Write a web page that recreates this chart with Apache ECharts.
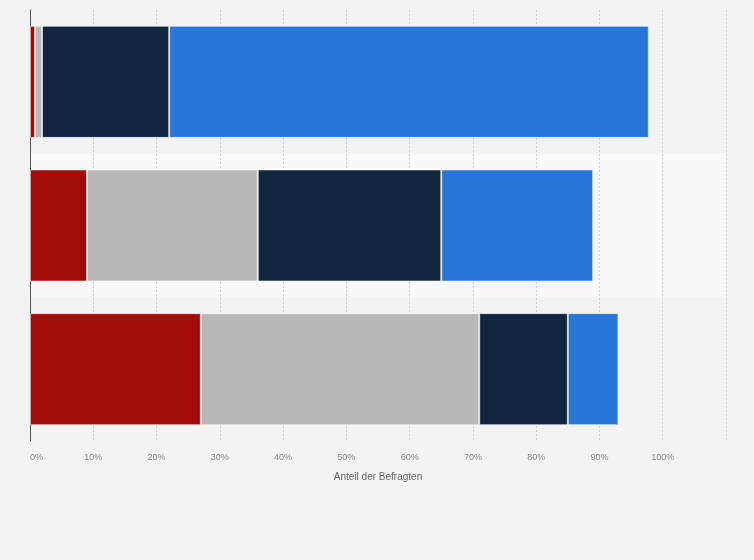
<!DOCTYPE html>
<html>
<head>
<meta charset="utf-8">
<script src="https://cdn.jsdelivr.net/npm/echarts@6/dist/echarts.min.js"></script>
<style>
  html, body { margin: 0; padding: 0; background: #f3f3f3; }
  #chart { width: 754px; height: 560px; }
</style>
</head>
<body>
<div id="chart"></div>
<script>
// Rows from top to bottom (no labels shown in the original)
var categories = ['Gruppe 1', 'Gruppe 2', 'Gruppe 3'];

// Stacked shares in percent, per row
var seriesNames = ['Segment 1', 'Segment 2', 'Segment 3', 'Segment 4'];
var seg1 = [0.8, 9, 27];
var seg2 = [1.1, 27, 44];
var seg3 = [20.1, 29, 14];
var seg4 = [75.8, 24, 8];
var colors = ['#a30a0a', '#b8b8b8', '#0f263e', '#2676da'];

var tickLabels = ['0%', '10%', '20%', '30%', '40%', '50%', '60%', '70%', '80%', '90%', '100%'];

var chart = echarts.init(document.getElementById('chart'), null, {
  renderer: 'canvas',
  width: 754,
  height: 560,
});

var values = [seg1, seg2, seg3, seg4];

var option = {
  animation: false,
  backgroundColor: '#f3f3f3',
  grid: {
    left: 30,
    right: 28,
    top: 10,
    bottom: 119,
    containLabel: false,
  },
  xAxis: {
    type: 'value',
    min: 0,
    max: 110,
    interval: 10,
    name: 'Anteil der Befragten',
    nameLocation: 'middle',
    nameGap: 31,
    nameTextStyle: {
      color: '#666',
      fontSize: 10,
      fontFamily: 'Liberation Sans, Arial, sans-serif',
    },
    axisLine: { show: false },
    axisTick: { show: false },
    axisLabel: {
      margin: 12,
      color: '#888',
      fontSize: 9,
      fontFamily: 'Liberation Sans, Arial, sans-serif',
      alignMinLabel: 'left',
      formatter: function (v) {
        var i = Math.round(v / 10);
        return tickLabels[i] || '';
      },
    },
    splitLine: {
      show: true,
      lineStyle: { color: '#d0d0d0', type: [2, 2], width: 1 },
    },
  },
  yAxis: {
    type: 'category',
    data: categories,
    inverse: true,
    axisLine: { show: true, lineStyle: { color: '#555', width: 1 } },
    axisTick: { show: false },
    axisLabel: { show: false },
    splitArea: {
      show: true,
      areaStyle: { color: ['rgba(0,0,0,0)', '#f9f9f9'] },
    },
  },
  series: seriesNames.map(function (name, i) {
    return {
      name: name,
      type: 'bar',
      stack: 'total',
      barWidth: '78%',
      data: values[i],
      itemStyle: {
        color: colors[i],
        borderColor: 'rgba(255,255,255,0.55)',
        borderWidth: 1,
      },
    };
  }),
};

chart.setOption(option);
</script>
</body>
</html>
